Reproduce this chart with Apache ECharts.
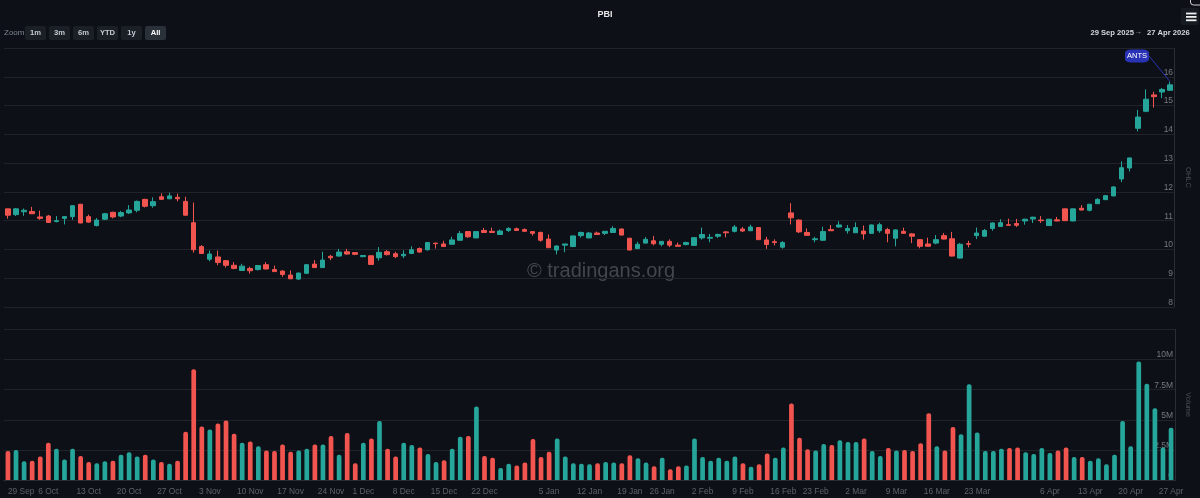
<!DOCTYPE html>
<html>
<head>
<meta charset="utf-8">
<title>PBI</title>
<style>
    html, body { margin: 0; padding: 0; background: #0d1117; }
    #Main { width: 1200px; height: 498px; }
</style>
<script src="https://cdn.jsdelivr.net/npm/echarts@6/dist/echarts.min.js"></script>
</head>
<body>
<div id="Main"></div>
<script>
let categories = [
    "29 Sep","30 Sep","1 Oct","2 Oct","3 Oct","6 Oct","7 Oct","8 Oct","9 Oct","10 Oct",
    "13 Oct","14 Oct","15 Oct","16 Oct","17 Oct","20 Oct","21 Oct","22 Oct","23 Oct","24 Oct",
    "27 Oct","28 Oct","29 Oct","30 Oct","31 Oct","3 Nov","4 Nov","5 Nov","6 Nov","7 Nov",
    "10 Nov","11 Nov","12 Nov","13 Nov","14 Nov","17 Nov","18 Nov","19 Nov","20 Nov","21 Nov",
    "24 Nov","25 Nov","26 Nov","28 Nov","1 Dec","2 Dec","3 Dec","4 Dec","5 Dec","8 Dec",
    "9 Dec","10 Dec","11 Dec","12 Dec","15 Dec","16 Dec","17 Dec","18 Dec","19 Dec","22 Dec",
    "23 Dec","24 Dec","26 Dec","29 Dec","30 Dec","31 Dec","2 Jan","5 Jan","6 Jan","7 Jan",
    "8 Jan","9 Jan","12 Jan","13 Jan","14 Jan","15 Jan","16 Jan","20 Jan","21 Jan","22 Jan",
    "23 Jan","26 Jan","27 Jan","28 Jan","29 Jan","30 Jan","2 Feb","3 Feb","4 Feb","5 Feb",
    "6 Feb","9 Feb","10 Feb","11 Feb","12 Feb","13 Feb","17 Feb","18 Feb","19 Feb","20 Feb",
    "23 Feb","24 Feb","25 Feb","26 Feb","27 Feb","2 Mar","3 Mar","4 Mar","5 Mar","6 Mar",
    "9 Mar","10 Mar","11 Mar","12 Mar","13 Mar","16 Mar","17 Mar","18 Mar","19 Mar","20 Mar",
    "23 Mar","24 Mar","25 Mar","26 Mar","27 Mar","30 Mar","31 Mar","1 Apr","2 Apr","6 Apr",
    "7 Apr","8 Apr","9 Apr","10 Apr","13 Apr","14 Apr","15 Apr","16 Apr","17 Apr","20 Apr",
    "21 Apr","22 Apr","23 Apr","24 Apr","27 Apr"
]

let opens = [
    11.41,11.21,11.31,11.32,11.13,11.16,10.97,11.08,11.14,11.57,
    11.14,10.83,11.05,11.29,11.16,11.27,11.36,11.74,11.52,11.83,
    11.76,11.81,11.67,10.93,10.10,9.66,9.74,9.61,9.45,9.27,
    9.34,9.30,9.47,9.30,9.25,9.11,8.97,9.17,9.49,9.37,
    9.76,9.77,9.92,9.89,9.75,9.78,9.71,9.92,9.85,9.78,
    9.86,10.03,9.99,10.22,10.19,10.18,10.32,10.62,10.40,10.66,
    10.63,10.52,10.66,10.72,10.69,10.62,10.59,10.36,9.98,10.15,
    10.10,10.48,10.40,10.57,10.56,10.59,10.71,10.39,10.03,10.22,
    10.30,10.18,10.28,10.15,10.17,10.14,10.40,10.39,10.46,10.61,
    10.63,10.71,10.65,10.76,10.33,10.27,10.08,11.27,11.02,10.59,
    10.34,10.32,10.69,10.78,10.65,10.58,10.64,10.56,10.65,10.69,
    10.39,10.63,10.54,10.34,10.19,10.22,10.48,10.37,9.70,10.20,
    10.48,10.46,10.73,10.80,10.86,10.90,10.99,11.06,11.02,10.83,
    11.03,11.41,10.99,11.43,11.36,11.59,11.73,11.86,12.45,12.83,
    14.21,14.80,15.37,15.47,15.53
]
let closes = [
    11.19,11.41,11.36,11.24,11.08,10.94,11.00,11.14,11.52,10.92,
    10.95,11.02,11.24,11.13,11.28,11.37,11.67,11.50,11.66,11.74,
    11.86,11.76,11.19,9.99,9.86,9.84,9.55,9.45,9.34,9.42,
    9.26,9.44,9.32,9.23,9.13,8.98,9.18,9.47,9.37,9.63,
    9.71,9.91,9.84,9.83,9.79,9.48,9.90,9.82,9.75,9.83,
    9.99,9.91,10.24,10.20,10.10,10.33,10.55,10.44,10.62,10.59,
    10.59,10.64,10.73,10.66,10.63,10.56,10.32,10.06,10.12,10.19,
    10.47,10.59,10.57,10.52,10.63,10.73,10.50,9.98,10.18,10.35,
    10.20,10.28,10.15,10.11,10.24,10.41,10.52,10.42,10.52,10.58,
    10.78,10.64,10.78,10.34,10.17,10.24,10.24,11.10,10.61,10.49,
    10.37,10.62,10.65,10.85,10.73,10.76,10.54,10.85,10.86,10.56,
    10.68,10.56,10.46,10.11,10.11,10.34,10.36,9.77,10.18,10.18,
    10.57,10.66,10.92,10.93,10.84,10.84,11.05,11.12,11.00,11.05,
    10.99,11.00,11.41,11.37,11.57,11.74,11.87,12.17,12.84,13.18,
    14.60,15.22,15.31,15.56,15.72
]
let lows = [
    11.07,11.16,11.17,11.23,11.03,10.92,10.94,10.87,11.03,10.91,
    10.93,10.80,11.02,11.08,11.12,11.23,11.29,11.46,11.45,11.73,
    11.75,11.67,11.18,9.89,9.85,9.59,9.45,9.37,9.31,9.25,
    9.16,9.27,9.31,9.22,9.05,8.97,8.94,9.15,9.36,9.36,
    9.63,9.75,9.82,9.80,9.73,9.47,9.61,9.79,9.70,9.70,
    9.85,9.89,9.96,10.03,10.09,10.17,10.30,10.40,10.39,10.58,
    10.58,10.51,10.61,10.64,10.62,10.48,10.27,10.05,9.83,9.90,
    10.08,10.41,10.39,10.51,10.50,10.58,10.49,9.97,10.02,10.21,
    10.14,10.11,10.08,10.10,10.14,10.13,10.34,10.25,10.40,10.42,
    10.59,10.61,10.64,10.33,10.02,10.14,10.03,10.87,10.57,10.48,
    10.25,10.30,10.64,10.76,10.55,10.57,10.34,10.55,10.58,10.25,
    10.11,10.55,10.22,10.04,10.10,10.18,10.35,9.76,9.69,10.07,
    10.36,10.44,10.65,10.79,10.83,10.78,10.86,10.92,10.92,10.82,
    10.98,10.99,10.98,11.36,11.32,11.58,11.72,11.85,12.34,12.71,
    14.10,14.77,14.93,15.26,15.52
]
let highs = [
    11.41,11.44,11.42,11.48,11.35,11.20,11.16,11.16,11.54,11.58,
    11.21,11.09,11.27,11.31,11.34,11.54,11.70,11.76,11.81,11.95,
    11.97,11.94,11.83,11.63,10.15,9.96,9.96,9.63,9.56,9.50,
    9.40,9.46,9.56,9.44,9.27,9.27,9.19,9.49,9.63,9.92,
    9.81,10.02,10.02,9.90,9.81,9.79,10.08,9.98,9.92,9.97,
    10.11,10.07,10.25,10.23,10.30,10.44,10.64,10.64,10.63,10.75,
    10.76,10.69,10.77,10.76,10.73,10.64,10.62,10.52,10.14,10.19,
    10.48,10.62,10.61,10.62,10.63,10.81,10.73,10.40,10.27,10.43,
    10.47,10.28,10.35,10.24,10.27,10.42,10.76,10.54,10.55,10.64,
    10.85,10.78,10.86,10.77,10.44,10.35,10.29,11.61,11.05,10.73,
    10.44,10.79,10.85,10.98,10.85,10.94,10.83,10.87,10.93,10.75,
    10.69,10.76,10.57,10.36,10.41,10.50,10.57,10.61,10.22,10.30,
    10.76,10.71,10.94,11.05,11.07,11.06,11.07,11.14,11.16,11.06,
    11.13,11.42,11.42,11.54,11.58,11.78,11.89,12.20,13.06,13.19,
    14.85,15.56,15.48,15.61,15.83
]

// 单位: 百万
let volumes = [
    2.4,2.5,1.55,1.6,1.95,3.1,2.6,1.7,2.6,2.0,
    1.5,1.4,1.55,1.6,2.1,2.3,1.95,2.1,1.7,1.5,
    1.35,1.6,4.0,9.2,4.45,4.2,4.7,4.95,3.85,3.1,
    3.2,2.8,2.45,2.4,2.95,2.35,2.45,2.6,2.95,2.95,
    3.65,2.1,3.9,1.4,3.1,3.45,4.9,2.6,1.95,3.1,
    2.9,2.7,2.15,1.5,1.65,2.6,3.6,3.65,6.1,2.0,
    1.85,1.0,1.35,1.2,1.45,3.4,1.9,2.35,3.45,1.95,
    1.4,1.35,1.3,1.4,1.5,1.45,1.4,2.05,1.8,1.45,
    1.15,1.85,0.9,1.15,1.2,3.45,1.9,1.6,1.85,1.6,
    1.95,1.4,1.1,1.3,2.2,1.85,2.7,6.35,3.5,2.55,
    2.45,3.0,2.9,3.3,3.15,3.15,3.45,2.4,2.0,2.65,
    2.45,2.5,2.4,3.05,5.55,2.8,2.45,4.4,3.8,7.95,
    3.95,2.4,2.4,2.6,2.65,2.7,2.3,2.15,2.65,2.25,
    2.45,2.7,1.9,1.9,1.6,1.8,1.3,2.1,4.9,2.8,
    9.85,8.0,5.95,2.7,4.35
]
// 1 = 上涨, 0 = 下跌
let volumeUp = [
    0,1,1,0,0,0,1,1,1,0,
    0,1,1,0,1,1,1,0,1,0,
    1,0,0,0,0,1,0,0,0,1,
    0,1,0,0,0,0,1,1,0,1,
    0,1,0,0,1,0,1,0,0,1,
    1,0,1,1,0,1,1,0,1,0,
    0,1,1,0,0,0,0,0,1,1,
    1,1,1,0,1,1,0,0,1,1,
    0,1,0,0,1,1,1,1,1,1,
    1,0,1,0,0,1,1,0,0,0,
    1,1,0,1,1,1,0,1,1,0,
    1,0,0,0,0,1,0,0,1,1,
    1,1,1,1,0,0,1,1,1,1,
    0,0,1,0,1,1,1,1,1,1,
    1,1,1,1,1
]

let tickIndex = [0,5,10,15,20,25,30,35,40,44,49,54,59,67,72,77,81,86,91,96,100,105,110,115,120,129,134,139,144]
let tickLabels = [
    "29 Sep","6 Oct","13 Oct","20 Oct","27 Oct","3 Nov","10 Nov","17 Nov","24 Nov","1 Dec",
    "8 Dec","15 Dec","22 Dec","5 Jan","12 Jan","19 Jan","26 Jan","2 Feb","9 Feb","16 Feb",
    "23 Feb","2 Mar","9 Mar","16 Mar","23 Mar","6 Apr","13 Apr","20 Apr","27 Apr"
]
let rangeButtons = ["1m","3m","6m","YTD","1y","All"]

const UpColor = "#26a69a"
const DownColor = "#f25450"
const GridColor = "#20242a"
const LabelFont = "Liberation Sans"

let candleData = categories.map((c, i) => [opens[i], closes[i], lows[i], highs[i]])
let volumeData = volumes.map((v, i) => ({
    value: v,
    itemStyle: { color: volumeUp[i] ? UpColor : DownColor }
}))

//#region 顶部按钮
let topGraphics = [
    { type: "text", left: 4, top: 29, style: { text: "Zoom", fill: "#7d8590", font: "8px " + LabelFont } },
    { type: "text", left: 1090.5, top: 28.5, style: { text: "29 Sep 2025", fill: "#d5d8dc", font: "bold 7.6px " + LabelFont } },
    { type: "text", left: 1134, top: 28, style: { text: "→", fill: "#9aa0a6", font: "8px " + LabelFont } },
    { type: "text", left: 1147, top: 28.5, style: { text: "27 Apr 2026", fill: "#d5d8dc", font: "bold 7.6px " + LabelFont } },
    { type: "rect", shape: { x: 1181, y: 8, width: 18, height: 17, r: 2 }, style: { fill: "#161b22" } },
    { type: "rect", shape: { x: 1186, y: 12.6, width: 10.5, height: 1.8 }, style: { fill: "#f0f0f0" } },
    { type: "rect", shape: { x: 1186, y: 16, width: 10.5, height: 1.8 }, style: { fill: "#f0f0f0" } },
    { type: "rect", shape: { x: 1186, y: 19.4, width: 10.5, height: 1.8 }, style: { fill: "#f0f0f0" } },
    { type: "rect", shape: { x: 1190.5, y: -6, width: 20, height: 11, r: 3 }, style: { fill: "none", stroke: "#d0d0d0", lineWidth: 1 } },
    { type: "text", left: 527, top: 261, z: -1, style: { text: "© tradingans.org", fill: "#43474c", font: "20px " + LabelFont } }
]
rangeButtons.forEach((name, i) => {
    let selected = name === "All"
    topGraphics.push({
        type: "rect",
        shape: { x: 25 + i * 24, y: 26, width: 21, height: 14, r: 2 },
        style: { fill: selected ? "#2b3139" : "#1b2027" }
    })
    topGraphics.push({
        type: "text",
        x: 35.5 + i * 24,
        y: 33,
        style: {
            text: name,
            fill: selected ? "#ffffff" : "#c4cad1",
            font: "bold 7.6px " + LabelFont,
            align: "center",
            verticalAlign: "middle"
        }
    })
})
//#endregion

let chart = echarts.init(document.getElementById("Main"), null, { renderer: "canvas" })

let options = {
    animation: false,
    backgroundColor: "#0d1117",
    title: {
        text: "PBI",
        left: 600,
        top: 5,
        textAlign: "center",
        textStyle: { color: "#e6e6e6", fontSize: 9, fontWeight: "bold", fontFamily: LabelFont }
    },
    graphic: topGraphics,
    grid: [
        { left: 3.9, right: 14, top: 48, height: 259 },
        { left: 3.9, right: 14, top: 329.5, height: 150.5 }
    ],
    xAxis: [
        {
            type: "category",
            gridIndex: 0,
            data: categories,
            axisLine: { show: false },
            axisTick: { show: false },
            axisLabel: { show: false },
            splitLine: { show: false }
        },
        {
            type: "category",
            gridIndex: 1,
            data: categories,
            axisLine: { lineStyle: { color: "#2a2e34" } },
            axisTick: {
                alignWithLabel: true,
                length: 6,
                lineStyle: { color: "#50555b" },
                interval: (i) => tickIndex.includes(i)
            },
            axisLabel: {
                color: "#5d6269",
                fontSize: 8.4,
                fontFamily: LabelFont,
                margin: 8,
                alignMinLabel: "left",
                hideOverlap: false,
                interval: (i) => tickIndex.includes(i),
                formatter: (v, i) => tickLabels[tickIndex.indexOf(i)]
            },
            splitLine: { show: false }
        }
    ],
    yAxis: [
        {
            type: "value",
            gridIndex: 0,
            position: "right",
            min: 8,
            max: 17,
            interval: 1,
            name: "OHLC",
            nameLocation: "middle",
            nameGap: 6,
            nameRotate: -90,
            nameTextStyle: { color: "#4a4e54", fontSize: 7.5, fontFamily: LabelFont },
            axisLine: { show: true, lineStyle: { color: "#2a2e34" } },
            axisTick: { show: false },
            axisLabel: {
                inside: true,
                color: "#74797f",
                fontSize: 8.5,
                fontFamily: LabelFont,
                margin: 1,
                verticalAlign: "bottom",
                formatter: (v) => v === 17 ? "" : String(v)
            },
            splitLine: { lineStyle: { color: GridColor, width: 1 } }
        },
        {
            type: "value",
            gridIndex: 1,
            position: "right",
            min: 0,
            max: 12.5,
            interval: 2.5,
            name: "Volume",
            nameLocation: "middle",
            nameGap: 6,
            nameRotate: -90,
            nameTextStyle: { color: "#4a4e54", fontSize: 7.5, fontFamily: LabelFont },
            axisLine: { show: true, lineStyle: { color: "#2a2e34" } },
            axisTick: { show: false },
            axisLabel: {
                inside: true,
                color: "#74797f",
                fontSize: 8.5,
                fontFamily: LabelFont,
                margin: 2,
                verticalAlign: "bottom",
                formatter: (v) => v === 12.5 ? "" : (v === 0 ? "0" : v + "M")
            },
            splitLine: { lineStyle: { color: GridColor, width: 1 } }
        }
    ],
    series: [
        {
            name: "OHLC",
            type: "candlestick",
            xAxisIndex: 0,
            yAxisIndex: 0,
            barWidth: 5,
            data: candleData,
            itemStyle: {
                color: UpColor,
                color0: DownColor,
                borderColor: UpColor,
                borderColor0: DownColor,
                borderColorDoji: DownColor,
                borderWidth: 1
            },
            markLine: {
                silent: true,
                symbol: "none",
                animation: false,
                label: { show: false },
                lineStyle: { color: "#2a33b5", width: 1, type: "solid" },
                data: [[
                    { coord: [categories[144], highs[144]] },
                    { x: 1149, y: 56 }
                ]]
            },
            markPoint: {
                silent: true,
                animation: false,
                data: [{
                    x: 1137,
                    y: 56,
                    symbol: "roundRect",
                    symbolSize: [24, 13],
                    itemStyle: { color: "#2a33b5" },
                    label: {
                        show: true,
                        formatter: "ANTS",
                        color: "#ffffff",
                        fontSize: 7.5,
                        fontFamily: LabelFont
                    }
                }]
            }
        },
        {
            name: "Volume",
            type: "bar",
            xAxisIndex: 1,
            yAxisIndex: 1,
            barWidth: 4.7,
            data: volumeData,
            itemStyle: { borderRadius: [2, 2, 0, 0] }
        }
    ]
}

chart.setOption(options)
</script>
</body>
</html>
